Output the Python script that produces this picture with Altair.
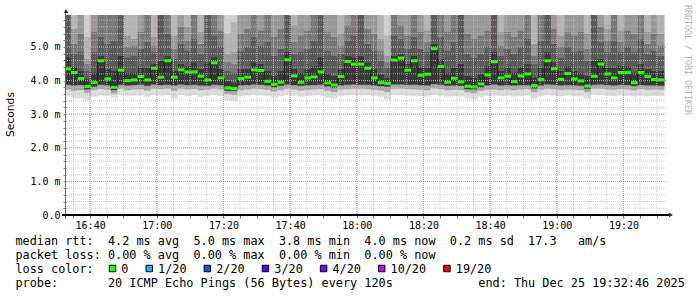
import altair as alt
import pandas as pd

# ---------------- data ----------------
START_CLOCK = "16:32:46"
END_CLOCK = "19:32:46"
FIRST_STEP_START = "16:32:16"
STEP_MIN = 2
Y_MAX = 5.952          # top of the value axis (ms)
ABOVE_AXIS = 6.5       # pings above the visible range

MEDIAN = [4.35, 4.24, 4.06, 3.82, 3.94, 4.59, 4.05, 3.80, 4.31, 4.00, 4.02, 4.12, 4.02, 4.37, 4.10,
          4.59, 4.10, 4.32, 4.26, 4.26, 4.13, 4.02, 4.53, 4.08, 3.78, 3.76, 4.06, 4.10, 4.32, 4.30,
          3.98, 3.89, 3.95, 4.62, 4.14, 3.95, 4.08, 4.11, 4.26, 3.93, 3.87, 4.12, 4.57, 4.49, 4.49,
          4.37, 4.08, 3.94, 3.92, 4.61, 4.67, 4.31, 4.59, 4.16, 4.19, 4.95, 4.42, 3.95, 4.07, 3.96,
          3.83, 3.81, 3.90, 4.17, 4.56, 4.08, 4.13, 3.97, 4.14, 4.20, 3.85, 4.03, 4.59, 4.35, 4.04,
          4.21, 4.05, 3.99, 3.84, 4.13, 4.49, 4.20, 4.08, 4.24, 4.24, 3.94, 4.24, 4.12, 4.03, 4.02]

PING_MIN = [3.55, 3.48, 3.47, 3.44, 3.52, 3.56, 3.55, 3.50, 3.58, 3.55, 3.56, 3.57, 3.52, 3.58, 3.56,
            3.57, 3.46, 3.58, 3.55, 3.57, 3.52, 3.55, 3.58, 3.55, 3.42, 3.40, 3.54, 3.56, 3.58, 3.57,
            3.55, 3.50, 3.54, 3.58, 3.56, 3.52, 3.55, 3.56, 3.57, 3.50, 3.47, 3.55, 3.57, 3.58, 3.57,
            3.57, 3.55, 3.52, 3.44, 3.58, 3.57, 3.56, 3.55, 3.54, 3.53, 3.58, 3.56, 3.52, 3.54, 3.53,
            3.48, 3.45, 3.52, 3.55, 3.56, 3.54, 3.56, 3.53, 3.55, 3.56, 3.46, 3.55, 3.58, 3.56, 3.54,
            3.56, 3.55, 3.53, 3.46, 3.58, 3.57, 3.55, 3.54, 3.56, 3.55, 3.53, 3.56, 3.54, 3.55, 3.54]

LOW_2 = [3.74, 3.70, 3.72, 3.64, 3.72, 3.75, 3.73, 3.62, 3.76, 3.72, 3.74, 3.75, 3.71, 3.76, 3.75,
         3.76, 3.70, 3.76, 3.74, 3.75, 3.72, 3.73, 3.76, 3.74, 3.60, 3.58, 3.72, 3.74, 3.76, 3.75,
         3.73, 3.68, 3.72, 3.76, 3.74, 3.71, 3.73, 3.74, 3.75, 3.70, 3.66, 3.73, 3.75, 3.76, 3.76,
         3.75, 3.73, 3.71, 3.66, 3.76, 3.76, 3.75, 3.74, 3.73, 3.72, 3.77, 3.75, 3.72, 3.73, 3.72,
         3.66, 3.64, 3.70, 3.73, 3.74, 3.72, 3.74, 3.72, 3.74, 3.75, 3.66, 3.73, 3.76, 3.75, 3.73,
         3.74, 3.73, 3.72, 3.66, 3.76, 3.76, 3.74, 3.73, 3.75, 3.74, 3.72, 3.75, 3.73, 3.74, 3.73]

LOW_1 = [3.88, 3.86, 3.87, 3.74, 3.82, 3.88, 3.86, 3.72, 3.88, 3.86, 3.87, 3.88, 3.85, 3.89, 3.87,
         3.88, 3.86, 3.89, 3.87, 3.88, 3.86, 3.85, 3.88, 3.87, 3.70, 3.70, 3.86, 3.87, 3.89, 3.88,
         3.86, 3.80, 3.85, 3.89, 3.87, 3.85, 3.86, 3.87, 3.88, 3.83, 3.79, 3.86, 3.88, 3.89, 3.88,
         3.88, 3.86, 3.84, 3.82, 3.89, 3.89, 3.88, 3.88, 3.87, 3.86, 3.90, 3.88, 3.85, 3.86, 3.85,
         3.75, 3.74, 3.80, 3.86, 3.89, 3.86, 3.87, 3.86, 3.87, 3.87, 3.77, 3.86, 3.89, 3.88, 3.86,
         3.87, 3.86, 3.85, 3.76, 3.88, 3.89, 3.87, 3.86, 3.88, 3.87, 3.84, 3.87, 3.86, 3.86, 3.85]

UP_1 = [4.70, 4.40, 4.30, 4.05, 4.25, 4.75, 4.35, 4.30, 4.75, 4.25, 4.25, 4.40, 4.40, 4.50, 4.60,
        4.75, 4.30, 4.50, 4.45, 4.55, 4.35, 4.55, 4.70, 4.35, 4.00, 3.95, 4.35, 4.35, 4.55, 4.50,
        4.30, 4.15, 4.30, 4.85, 4.35, 4.25, 4.35, 4.45, 4.70, 4.25, 4.15, 4.35, 4.75, 4.70, 4.75,
        4.55, 4.35, 4.20, 4.10, 4.75, 4.80, 4.50, 4.75, 4.40, 4.40, 5.10, 4.65, 4.25, 4.40, 4.50,
        4.15, 4.10, 4.20, 4.45, 4.85, 4.30, 4.40, 4.25, 4.40, 4.50, 4.10, 4.40, 4.85, 4.55, 4.30,
        4.45, 4.30, 4.25, 4.15, 4.60, 4.65, 4.40, 4.40, 4.45, 4.45, 4.25, 4.50, 4.35, 4.30, 4.30]

UP_2 = [6.5, 4.80, 4.85, 4.30, 4.85, 5.30, 5.10, 5.20, 6.5, 4.70, 4.75, 4.95, 5.15, 4.85, 6.5,
        5.40, 4.65, 5.10, 4.90, 5.25, 4.80, 6.5, 5.35, 5.00, 4.30, 4.25, 4.90, 5.00, 5.30, 5.05,
        5.15, 4.75, 4.95, 6.5, 4.80, 4.85, 4.95, 5.20, 6.5, 4.90, 4.75, 4.80, 5.20, 5.35, 6.5,
        5.10, 4.90, 4.60, 4.40, 5.35, 5.25, 4.95, 5.30, 4.95, 4.85, 6.5, 5.30, 4.90, 5.15, 6.5,
        4.80, 4.70, 4.80, 5.00, 6.5, 4.75, 4.95, 4.80, 5.00, 5.25, 4.50, 5.20, 6.5, 5.10, 4.70,
        5.00, 4.85, 4.90, 4.60, 6.5, 5.15, 4.85, 5.20, 4.85, 5.00, 4.85, 5.25, 4.80, 4.90, 4.75]

UP_3 = [6.5, 5.10, 5.40, 4.50, 5.45, 6.5, 6.5, 6.5, 6.5, 5.00, 5.05, 5.45, 6.5, 5.05, 6.5,
        6.5, 4.95, 5.60, 5.20, 6.5, 5.10, 6.5, 6.5, 5.50, 4.55, 4.50, 5.40, 5.55, 6.5, 5.50,
        6.5, 5.30, 5.55, 6.5, 5.15, 5.35, 5.50, 6.5, 6.5, 5.45, 5.30, 5.05, 5.65, 6.5, 6.5,
        5.55, 5.40, 4.90, 4.55, 6.5, 5.65, 5.35, 6.5, 5.45, 5.15, 6.5, 6.5, 5.45, 6.5, 6.5,
        5.40, 5.25, 5.35, 5.50, 6.5, 5.05, 5.45, 5.30, 5.50, 6.5, 4.75, 6.5, 6.5, 5.55, 5.00,
        5.45, 5.35, 5.45, 4.95, 6.5, 5.60, 5.20, 6.5, 5.15, 5.50, 5.40, 6.5, 5.10, 5.40, 5.05]

UP_4 = [6.5, 5.55, 6.5, 4.65, 6.5, 6.5, 6.5, 6.5, 6.5, 5.35, 5.25, 6.5, 6.5, 5.30, 6.5,
        6.5, 5.35, 6.5, 5.60, 6.5, 5.45, 6.5, 6.5, 6.5, 4.80, 4.85, 6.5, 6.5, 6.5, 6.5,
        6.5, 6.5, 6.5, 6.5, 5.65, 6.5, 6.5, 6.5, 6.5, 6.5, 6.5, 5.40, 6.5, 6.5, 6.5,
        6.5, 6.5, 5.25, 4.75, 6.5, 6.5, 6.5, 6.5, 6.5, 5.50, 6.5, 6.5, 6.5, 6.5, 6.5,
        6.5, 6.5, 6.5, 6.5, 6.5, 5.45, 6.5, 6.5, 6.5, 6.5, 5.10, 6.5, 6.5, 6.5, 5.35,
        6.5, 6.5, 6.5, 5.40, 6.5, 6.5, 5.55, 6.5, 5.50, 6.5, 6.5, 6.5, 5.45, 6.5, 5.40]

UP_5 = [6.5, 6.5, 6.5, 5.30, 6.5, 6.5, 6.5, 6.5, 6.5, 6.5, 6.5, 6.5, 6.5, 6.5, 6.5,
        6.5, 6.5, 6.5, 6.5, 6.5, 6.5, 6.5, 6.5, 6.5, 5.40, 5.75, 6.5, 6.5, 6.5, 6.5,
        6.5, 6.5, 6.5, 6.5, 6.5, 6.5, 6.5, 6.5, 6.5, 6.5, 6.5, 6.5, 6.5, 6.5, 6.5,
        6.5, 6.5, 6.5, 5.35, 6.5, 6.5, 6.5, 6.5, 6.5, 6.5, 6.5, 6.5, 6.5, 6.5, 6.5,
        6.5, 6.5, 6.5, 6.5, 6.5, 6.5, 6.5, 6.5, 6.5, 6.5, 6.5, 6.5, 6.5, 6.5, 6.5,
        6.5, 6.5, 6.5, 6.5, 6.5, 6.5, 6.5, 6.5, 6.5, 6.5, 6.5, 6.5, 6.5, 6.5, 6.5]

SMOKE_GREYS = ["#dedede", "#a6a6a6", "#383838", "#5a5a5a", "#787878", "#989898", "#b4b4b4", "#d0d0d0"]

TICK_LABELS = ["16:40", "17:00", "17:20", "17:40", "18:00", "18:20", "18:40", "19:00", "19:20"]
Y_LABEL_VALUES = [0, 1, 2, 3, 4, 5]

LEGEND_LINES = [
    "median rtt:  4.2 ms avg  5.0 ms max  3.8 ms min  4.0 ms now  0.2 ms sd  17.3   am/s",
    "packet loss: 0.00 % avg  0.00 % max  0.00 % min  0.00 % now",
    "loss color:",
    "probe:       20 ICMP Echo Pings (56 Bytes) every 120s            end: Thu Dec 25 19:32:46 2025",
]
LOSS_LABELS = ["0", "1/20", "2/20", "3/20", "4/20", "10/20", "19/20"]
LOSS_COLORS = ["#26ff00", "#00b8ff", "#0059ff", "#5e00ff", "#7e00ff", "#dd00ff", "#ff0000"]

# ---------------- layout ----------------
PAD_L, PAD_T = 66, 15
W, H = 600, 200
MONO = "DejaVu Sans Mono"
CHAR_W = 7.13
NBSP = "\u00a0"


def clock_min(s):
    p = [int(v) for v in s.split(":")]
    while len(p) < 3:
        p.append(0)
    return p[0] * 60 + p[1] + p[2] / 60.0


t0 = clock_min(START_CLOCK)
t1 = clock_min(END_CLOCK)
span = t1 - t0
first = clock_min(FIRST_STEP_START) - t0
n = len(MEDIAN)
starts = [first + STEP_MIN * j for j in range(n)]
ends = [s + STEP_MIN for s in starts]

rows = []
for j in range(n):
    b = [PING_MIN[j], LOW_2[j], LOW_1[j], UP_1[j], UP_2[j], UP_3[j], UP_4[j], UP_5[j], ABOVE_AXIS]
    for k in range(8):
        if b[k + 1] > b[k]:
            rows.append({"x": starts[j], "x2": ends[j], "y": b[k], "y2": b[k + 1], "band": k})
smoke_df = pd.DataFrame(rows)

med_df = pd.DataFrame({"x": starts, "x2": ends, "y": MEDIAN})
line_df = pd.DataFrame({"x": starts + [ends[-1]], "y": MEDIAN + [MEDIAN[-1]]})

xs = alt.Scale(domain=[0, span], nice=False, zero=False)
ys = alt.Scale(domain=[0, Y_MAX], nice=False, zero=True)

# grid positions
minor_x = []
m = int(t0 // 5 + 1) * 5
while m < t1:
    minor_x.append(m - t0)
    m += 5
major_x = [clock_min(l) - t0 for l in TICK_LABELS]
minor_y = [round(0.2 * i, 1) for i in range(1, 30) if 0.2 * i < Y_MAX]
major_y = [v for v in Y_LABEL_VALUES if v > 0]

label_expr = "''"
for off, lab in reversed(list(zip(major_x, TICK_LABELS))):
    label_expr = f"abs(datum.value - {off:.4f}) < 0.01 ? '{lab}' : ({label_expr})"

x_axis = alt.Axis(values=minor_x, labelExpr=label_expr, grid=False, domain=False,
                  tickSize=3, tickColor="#777777", labelFont=MONO, labelFontSize=10,
                  labelColor="#000000", labelBaseline="alphabetic", labelPadding=10,
                  labelFlush=False, labelOverlap=False, title=None)
y_axis = alt.Axis(values=[0] + minor_y,
                  labelExpr="datum.value == 0 ? '0.0' : (abs(datum.value - round(datum.value)) < 0.001 ? format(datum.value, '.1f') + ' m' : '')",
                  grid=False, domain=False, tickSize=3, tickColor="#777777",
                  labelFont=MONO, labelFontSize=10, labelColor="#000000", labelPadding=3,
                  labelOverlap=False, title=None)

X = lambda f: alt.X(f, scale=xs, axis=x_axis)
Y = lambda f: alt.Y(f, scale=ys, axis=y_axis)

smoke = alt.Chart(smoke_df).mark_rect(clip=True, strokeWidth=0.4).encode(
    x=X("x:Q"),
    x2="x2:Q",
    y=Y("y:Q"),
    y2="y2:Q",
    color=alt.Color("band:N", scale=alt.Scale(domain=list(range(8)), range=SMOKE_GREYS), legend=None),
    stroke=alt.Stroke("band:N", scale=alt.Scale(domain=list(range(8)), range=SMOKE_GREYS), legend=None),
)

grid_minor_v = alt.Chart(pd.DataFrame({"x": minor_x})).mark_rule(
    color="#bfbfbf", strokeDash=[1, 1], strokeWidth=1, opacity=0.8).encode(x=X("x:Q"))
grid_minor_h = alt.Chart(pd.DataFrame({"y": minor_y})).mark_rule(
    color="#bfbfbf", strokeDash=[1, 1], strokeWidth=1, opacity=0.8).encode(y=Y("y:Q"))
grid_major_v = alt.Chart(pd.DataFrame({"x": major_x})).mark_rule(
    color="#e48a8a", strokeDash=[1, 1], strokeWidth=1, opacity=0.9).encode(x=X("x:Q"))
grid_major_h = alt.Chart(pd.DataFrame({"y": major_y})).mark_rule(
    color="#e48a8a", strokeDash=[1, 1], strokeWidth=1, opacity=0.9).encode(y=Y("y:Q"))

med_line = alt.Chart(line_df).mark_line(interpolate="step-after", color="#202020", strokeWidth=1, clip=True).encode(
    x=X("x:Q"), y=Y("y:Q"))
med_green = alt.Chart(med_df).mark_rule(color=LOSS_COLORS[0], strokeWidth=3, clip=True).encode(
    x=X("x:Q"), x2="x2:Q", y=Y("y:Q"))

one = pd.DataFrame({"d": [0]})
y_axis_line = alt.Chart(one).mark_rule(color="#6a6a6a", strokeWidth=1).encode(
    x=alt.value(-0.5), y=alt.value(H + 4), y2=alt.value(-3))
x_axis_line = alt.Chart(one).mark_rule(color="#000000", strokeWidth=2).encode(
    x=alt.value(-4), x2=alt.value(W + 4), y=alt.value(H))
arrow_up = alt.Chart(one).mark_point(shape="triangle-up", filled=True, size=22, color="#8b0000", opacity=1).encode(
    x=alt.value(0), y=alt.value(-4))
arrow_right = alt.Chart(one).mark_point(shape="triangle-right", filled=True, size=22, color="#8b0000", opacity=1).encode(
    x=alt.value(W + 5), y=alt.value(H))


def text_layer(txt, x, y, **kw):
    return alt.Chart(pd.DataFrame({"t": [txt.replace(" ", NBSP)]})).mark_text(**kw).encode(
        text="t:N", x=alt.value(x), y=alt.value(y))


texts = []
baselines = [245, 259, 273.2, 287.3]
for line, by in zip(LEGEND_LINES, baselines):
    texts.append(text_layer(line, 15.4 - PAD_L, by - PAD_T, font=MONO, fontSize=11.84,
                            align="left", baseline="alphabetic", color="#000000"))

box_x = 109.0
for lab, col in zip(LOSS_LABELS, LOSS_COLORS):
    texts.append(alt.Chart(one).mark_point(shape="square", filled=True, size=42, fill=col,
                                           stroke="#000000", strokeWidth=1, opacity=1).encode(
        x=alt.value(box_x + 3.5 - PAD_L), y=alt.value(268.5 - PAD_T)))
    lx = box_x + 12.3
    texts.append(text_layer(lab, lx - PAD_L, baselines[2] - PAD_T, font=MONO, fontSize=11.84,
                            align="left", baseline="alphabetic", color="#000000"))
    box_x = lx + len(lab) * CHAR_W + 17.3

texts.append(text_layer("Seconds", 10.5 - PAD_L, 114.5 - PAD_T, font="DejaVu Sans", fontSize=10.7,
                        angle=270, align="center", baseline="middle", color="#000000"))
texts.append(text_layer("RRDTOOL / TOBI OETIKER", 687 - PAD_L, 60 - PAD_T, font=MONO, fontSize=8.3,
                        angle=90, align="center", baseline="middle", color="#b4b4b4"))

chart = alt.layer(
    smoke, grid_minor_v, grid_minor_h, grid_major_v, grid_major_h,
    med_line, med_green, y_axis_line, x_axis_line, arrow_up, arrow_right, *texts
).properties(
    width=W, height=H,
    autosize=alt.AutoSizeParams(type="none"),
    padding={"left": PAD_L, "top": PAD_T, "right": 697 - PAD_L - W, "bottom": 297 - PAD_T - H},
    background="#ffffff",
).configure_view(strokeWidth=0)

chart.save("out.html", embed_options={"renderer": "svg", "actions": False})
